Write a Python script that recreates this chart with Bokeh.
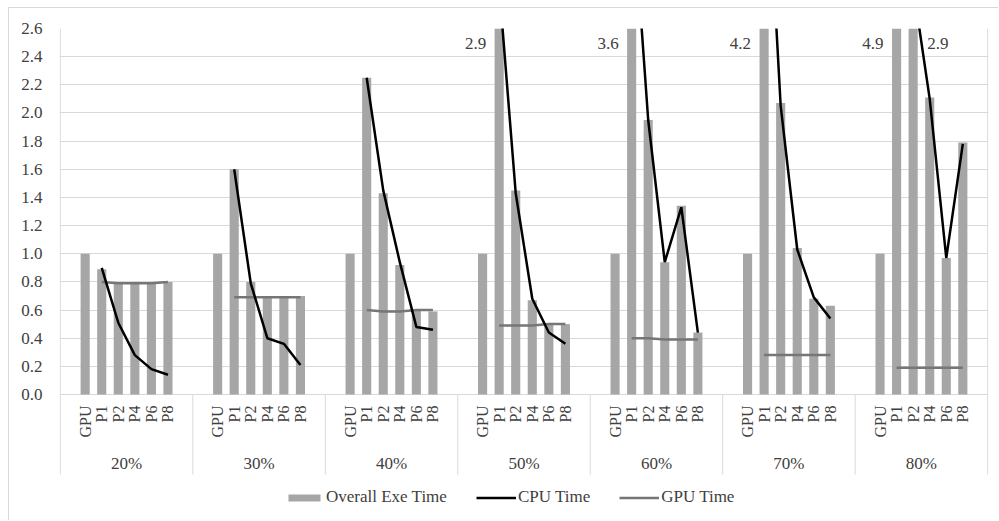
import math
from bokeh.plotting import figure
from bokeh.models import (Range1d, FixedTicker, PrintfTickFormatter, Legend, LegendItem,
                          ColumnDataSource)
from bokeh.core.properties import value
from bokeh.embed import file_html
from bokeh.resources import INLINE

# ---------------- data ----------------
groups = ["20%", "30%", "40%", "50%", "60%", "70%", "80%"]
subs = ["GPU", "P1", "P2", "P4", "P6", "P8"]

overall_20 = [1.0, 0.89, 0.80, 0.79, 0.79, 0.80]
overall_30 = [1.0, 1.60, 0.80, 0.69, 0.69, 0.70]
overall_40 = [1.0, 2.25, 1.43, 0.92, 0.60, 0.59]
overall_50 = [1.0, 2.9, 1.45, 0.67, 0.50, 0.50]
overall_60 = [1.0, 3.6, 1.95, 0.94, 1.34, 0.44]
overall_70 = [1.0, 4.2, 2.07, 1.04, 0.68, 0.63]
overall_80 = [1.0, 4.9, 2.9, 2.11, 0.97, 1.79]

nan = float("nan")
cpu_20 = [nan, 0.90, 0.51, 0.28, 0.18, 0.14]
cpu_30 = [nan, 1.60, 0.79, 0.40, 0.36, 0.21]
cpu_40 = [nan, 2.25, 1.45, 0.94, 0.48, 0.46]
cpu_50 = [nan, 2.9, 1.43, 0.68, 0.44, 0.36]
cpu_60 = [nan, 3.6, 1.95, 0.94, 1.33, 0.44]
cpu_70 = [nan, 4.2, 2.05, 1.03, 0.69, 0.54]
cpu_80 = [nan, 4.9, 2.9, 2.10, 0.97, 1.78]

gpu_20 = [nan, 0.80, 0.79, 0.79, 0.79, 0.80]
gpu_30 = [nan, 0.69, 0.69, 0.69, 0.69, 0.69]
gpu_40 = [nan, 0.60, 0.59, 0.59, 0.60, 0.60]
gpu_50 = [nan, 0.49, 0.49, 0.49, 0.50, 0.50]
gpu_60 = [nan, 0.40, 0.40, 0.39, 0.39, 0.39]
gpu_70 = [nan, 0.28, 0.28, 0.28, 0.28, 0.28]
gpu_80 = [nan, 0.19, 0.19, 0.19, 0.19, 0.19]

y_ticks = [0.0, 0.2, 0.4, 0.6, 0.8, 1.0, 1.2, 1.4, 1.6, 1.8, 2.0, 2.2, 2.4, 2.6]
y_max = 2.6

overall = [overall_20, overall_30, overall_40, overall_50, overall_60, overall_70, overall_80]
cpu = [cpu_20, cpu_30, cpu_40, cpu_50, cpu_60, cpu_70, cpu_80]
gpu = [gpu_20, gpu_30, gpu_40, gpu_50, gpu_60, gpu_70, gpu_80]

# ---------------- layout constants ----------------
FONT = "'Liberation Serif'"
FS = "17px"
TXT = "#404040"
SLOTS = 8                      # slots per group (incl. blank padding)
W, H = 990, 513
ML, MR, MT = 50, 11, 20
frame_h = H - MT
px_per_unit = 366 / y_max      # plot area height (0..2.6) in px
y_bottom = -(frame_h - 366) / px_per_unit
lbl_bottom = -80 / px_per_unit

xs, tops, cpus, gpus, sublab = [], [], [], [], []
for g in range(len(groups)):
    for i, s in enumerate(subs):
        xs.append(g * SLOTS + 1.5 + i)
        tops.append(overall[g][i])
        cpus.append(cpu[g][i])
        gpus.append(gpu[g][i])
        sublab.append(s)

p = figure(width=W, height=H, output_backend="svg", toolbar_location=None,
           x_range=Range1d(-0.05, len(groups) * SLOTS + 0.05),
           y_range=Range1d(y_bottom, y_max),
           min_border_left=ML, min_border_right=MR, min_border_top=MT, min_border_bottom=0)
p.styles = {"margin-left": "8px", "margin-top": "7px",
            "border-top": "1px solid #d9d9d9", "border-left": "1px solid #d9d9d9"}
p.outline_line_color = None
p.background_fill_color = "white"
p.border_fill_color = "white"

p.xaxis.visible = False
p.xgrid.visible = False
ticker = FixedTicker(ticks=y_ticks)
p.yaxis.ticker = ticker
p.yaxis.formatter = PrintfTickFormatter(format="%.1f")
p.yaxis.axis_line_color = None
p.yaxis.major_tick_line_color = None
p.yaxis.minor_tick_line_color = None
p.yaxis.major_label_standoff = 11
p.yaxis.major_label_text_font = FONT
p.yaxis.major_label_text_font_size = FS
p.yaxis.major_label_text_color = TXT
p.ygrid.ticker = ticker
p.ygrid.grid_line_color = "#d9d9d9"
p.ygrid.grid_line_width = 1

# separators of the category axis and plot-area side borders
n_sep = len(groups) + 1
sep_x = [g * SLOTS for g in range(n_sep)]
p.segment(x0=sep_x, x1=sep_x, y0=[0] * n_sep,
          y1=[lbl_bottom] * n_sep, line_color="#d9d9d9", line_width=1)
edge_x = [0, len(groups) * SLOTS]
p.segment(x0=edge_x, x1=edge_x, y0=[0, 0], y1=[y_max, y_max], line_color="#d9d9d9", line_width=1)

src = ColumnDataSource(dict(x=xs, top=tops, cpu=cpus, gpu=gpus, lab=sublab))
bars = p.vbar(x="x", top="top", bottom=0, width=0.55, source=src,
              fill_color="#a6a6a6", line_color=None)
gpu_line = p.line(x="x", y="gpu", source=src, line_color="#767676", line_width=2.5)
cpu_line = p.line(x="x", y="cpu", source=src, line_color="black", line_width=2.5)

# category labels (rotated) and group labels
p.text(x="x", y=-11 / px_per_unit, text="lab", source=src, angle=math.pi / 2,
       text_align="right", text_baseline="middle", text_font=value(FONT),
       text_font_size="16px", text_color=TXT)
p.text(x=[g * SLOTS + SLOTS / 2 for g in range(len(groups))], y=-69 / px_per_unit,
       text=groups, text_align="center", text_baseline="middle",
       text_font=value(FONT), text_font_size=FS, text_color=TXT)

# value labels for bars exceeding the axis
lx_l, lt_l, lx_r, lt_r = [], [], [], []
for g in range(len(groups)):
    for i in range(len(subs)):
        v = overall[g][i]
        if v > y_max:
            x = g * SLOTS + 1.5 + i
            if i > 0 and overall[g][i - 1] > y_max:
                lx_r.append(x); lt_r.append(f"{v:.1f}")
            else:
                lx_l.append(x); lt_l.append(f"{v:.1f}")
lab_y = (394 - 43) / px_per_unit
p.text(x=lx_l, y=[lab_y] * len(lx_l), text=lt_l, x_offset=-13, text_align="right",
       text_baseline="middle", text_font=value(FONT), text_font_size=FS, text_color=TXT)
p.text(x=lx_r, y=[lab_y] * len(lx_r), text=lt_r, x_offset=14, text_align="left",
       text_baseline="middle", text_font=value(FONT), text_font_size=FS, text_color=TXT)

legend = Legend(items=[LegendItem(label="Overall Exe Time", renderers=[bars]),
                       LegendItem(label="CPU Time", renderers=[cpu_line]),
                       LegendItem(label="GPU Time", renderers=[gpu_line])],
                orientation="horizontal", location=(225, 14), padding=0, margin=0,
                spacing=29, glyph_width=40, glyph_height=9, label_standoff=2,
                label_text_font=FONT, label_text_font_size=FS, label_text_color=TXT,
                border_line_color=None, background_fill_alpha=0)
p.add_layout(legend)

open("out.html", "w").write(file_html(p, INLINE))
